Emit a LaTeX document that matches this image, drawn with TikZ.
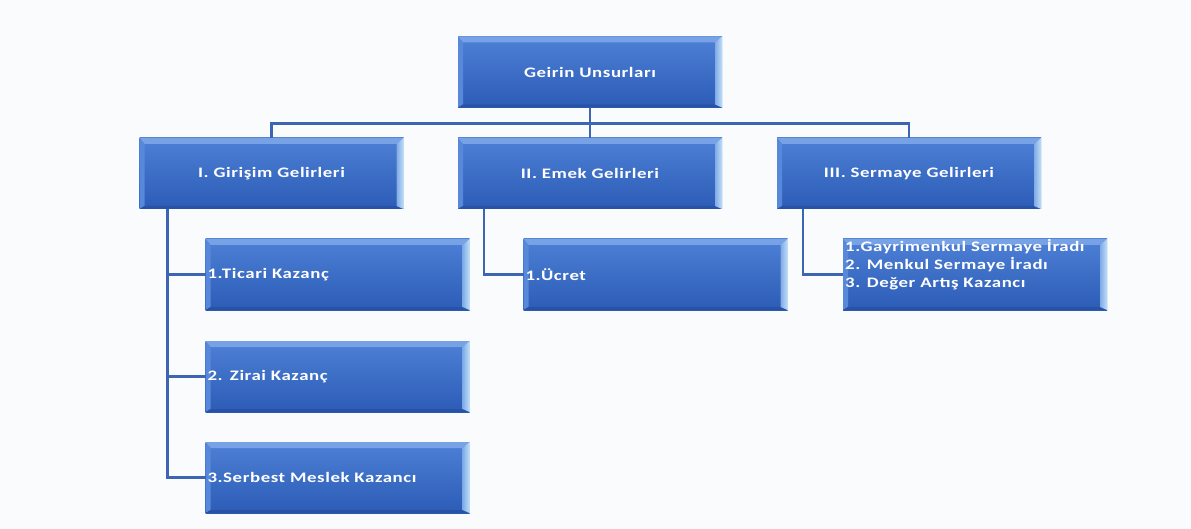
\documentclass[tikz,border=0pt]{standalone}
\usepackage{fontspec}
\newfontfamily\boxfont[FakeStretch=1.3,LetterSpace=4]{Carlito}
\definecolor{bg}{RGB}{250,251,253}
\definecolor{btop}{RGB}{78,128,214}
\definecolor{bbot}{RGB}{44,92,182}
\definecolor{bevT}{RGB}{120,162,230}
\definecolor{bevL}{RGB}{88,136,218}
\definecolor{bevR}{RGB}{190,222,248}
\definecolor{bevB}{RGB}{40,82,166}
\definecolor{conn}{RGB}{62,100,180}
\tikzset{
  boxfnt/.style={font=\boxfont\bfseries\fontsize{14.5}{18}\selectfont, text=white},
  box/.style={rectangle, inner sep=2pt, outer sep=0pt,
    minimum width=264pt, minimum height=71pt,
    top color=btop, bottom color=bbot, boxfnt,
    path picture={
      \fill[bevT] (path picture bounding box.north west) -- (path picture bounding box.north east)
        -- ([shift={(-7pt,-6pt)}]path picture bounding box.north east) -- ([shift={(5pt,-6pt)}]path picture bounding box.north west) -- cycle;
      \fill[bevL] (path picture bounding box.north west) -- ([shift={(5pt,-6pt)}]path picture bounding box.north west)
        -- ([shift={(5pt,3pt)}]path picture bounding box.south west) -- (path picture bounding box.south west) -- cycle;
      \fill[bevB] (path picture bounding box.south west) -- ([shift={(5pt,3pt)}]path picture bounding box.south west)
        -- ([shift={(-7pt,3pt)}]path picture bounding box.south east) -- (path picture bounding box.south east) -- cycle;
      \shade[left color=bevL!60!bevR, right color=bevR] (path picture bounding box.north east) -- ([shift={(-7pt,-6pt)}]path picture bounding box.north east)
        -- ([shift={(-7pt,3pt)}]path picture bounding box.south east) -- (path picture bounding box.south east) -- cycle;
    }},
  leftbox/.style={box, text width=260pt, align=left},
  conn/.style={draw=conn, line width=2.6pt},
}
\begin{document}
\begin{tikzpicture}[x=1pt,y=-1pt]
\fill[bg] (0,0) rectangle (1191,529);
\useasboundingbox (0,0) rectangle (1191,529);

\node[box] (top) at (590,72) {Geirin Unsurları};
\node[box] (b1) at (271.5,173.5) {I. Girişim Gelirleri};
\node[box] (b2) at (590,173.5) {II. Emek Gelirleri};
\node[box] (b3) at (909,173.5) {III. Sermaye Gelirleri};

\node[leftbox] (c11) at (337.5,274.5) {1.Ticari Kazanç};
\node[leftbox] (c12) at (337.5,376.5) {2. Zirai Kazanç};
\node[leftbox] (c13) at (337.5,477.5) {3.Serbest Meslek Kazancı};
\node[leftbox] (c21) at (655.5,274.5) {1.Ücret};
\node[box] (c31) at (975,274.5) {};
\node[boxfnt, anchor=north west, align=left, inner sep=0pt] (t31) at (845,239)
  {1.Gayrimenkul Sermaye İradı\\2. Menkul Sermaye İradı\\3. Değer Artış Kazancı};

\draw[conn] (top.south) -- (b2.north);
\draw[conn] (top.south) -- ++(0,16) -| (b1.north);
\draw[conn] (top.south) -- ++(0,16) -| (b3.north);
\draw[conn] ([xshift=28pt]b1.south west) |- (c11.west);
\draw[conn] ([xshift=28pt]b1.south west) |- (c12.west);
\draw[conn] ([xshift=28pt]b1.south west) |- (c13.west);
\draw[conn] ([xshift=26pt]b2.south west) |- (c21.west);
\draw[conn] ([xshift=26pt]b3.south west) |- (c31.west);
\end{tikzpicture}
\end{document}
